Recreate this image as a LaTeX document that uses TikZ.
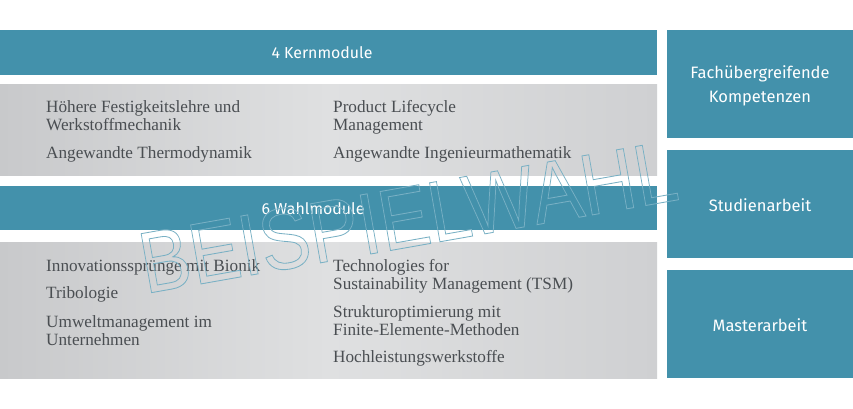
\documentclass[tikz,border=0pt]{standalone}
\usepackage{fontspec}
\setmainfont{Liberation Serif}
\setsansfont{Fira Sans}
\newfontfamily\wmfont{Liberation Sans}
\definecolor{tealbox}{HTML}{4391AB}
\definecolor{grayL}{HTML}{C8C9CB}
\definecolor{grayM}{HTML}{DFE0E1}
\definecolor{grayR}{HTML}{CFD0D2}
\definecolor{txt}{HTML}{4A4E52}
\definecolor{wm}{HTML}{78B0C4}
\begin{document}
\begin{tikzpicture}[x=1pt,y=-1pt,
  bluebox/.style={fill=tealbox, draw=none, anchor=north west, inner sep=0, outer sep=0},
  graybox/.style={left color=grayL, right color=grayR, middle color=grayM, draw=none, anchor=north west, inner sep=0, outer sep=0},
  head/.style={text=white, font=\sffamily\fontsize{15.9}{18}\selectfont, inner sep=0},
  side/.style={text=white, font=\sffamily\fontsize{16.5}{24}\selectfont, inner sep=0, align=center},
  item/.style={text=txt, font=\rmfamily\fontsize{17.2}{18}\selectfont, anchor=base west, inner sep=0},
]
\useasboundingbox[fill=white] (0,0) rectangle (853,409);
% left column
\node[bluebox, minimum width=657pt, minimum height=45pt] (kern) at (0,30) {};
\node[graybox, minimum width=657pt, minimum height=90pt] (kernbox) at (0,85) {};
\node[bluebox, minimum width=657pt, minimum height=44pt] (wahl) at (0,186) {};
\node[graybox, minimum width=657pt, minimum height=136pt] (wahlbox) at (0,242) {};
% right column
\node[bluebox, minimum width=186pt, minimum height=108pt] (fach) at (667,30) {};
\node[bluebox, minimum width=186pt, minimum height=108pt] (stud) at (667,150) {};
\node[bluebox, minimum width=186pt, minimum height=108pt] (mast) at (667,270) {};
% headings
\node[head] (kernT) at (322,53) {4 Kernmodule};
\node[head] (wahlT) at (313,209) {6 Wahlmodule};
\node[side] (fachT) at (760,86) {Fachübergreifende\\Kompetenzen};
\node[side] (studT) at (760,205) {Studienarbeit};
\node[side] (mastT) at (760,325) {Masterarbeit};
% Kernmodule items
\node[item] (k1a) at (46,113) {Höhere Festigkeitslehre und};
\node[item] (k1b) at (46,131) {Werkstoffmechanik};
\node[item] (k2) at (46,158) {Angewandte Thermodynamik};
\node[item] (k3a) at (333,113) {Product Lifecycle};
\node[item] (k3b) at (333,131) {Management};
\node[item] (k4) at (333,158) {Angewandte Ingenieurmathematik};
% Wahlmodule items
\node[item] (w1) at (46,271) {Innovationssprünge mit Bionik};
\node[item] (w2) at (46,298) {Tribologie};
\node[item] (w3a) at (46,327) {Umweltmanagement im};
\node[item] (w3b) at (46,345) {Unternehmen};
\node[item] (w4a) at (333,271) {Technologies for};
\node[item] (w4b) at (333,289) {Sustainability Management (TSM)};
\node[item] (w5a) at (333,317) {Strukturoptimierung mit};
\node[item] (w5b) at (333,335) {Finite-Elemente-Methoden};
\node[item] (w6) at (333,362) {Hochleistungswerkstoffe};
% watermark
\node[rotate=10, text=wm, inner sep=0] (wmark) at (408,217)
  {\wmfont\fontsize{87}{87}\selectfont\special{pdf:literal direct 1 Tr 0.85 w}\scalebox{0.865}[1]{BEISPIELWAHL}\special{pdf:literal direct 0 Tr}};
\end{tikzpicture}
\end{document}
